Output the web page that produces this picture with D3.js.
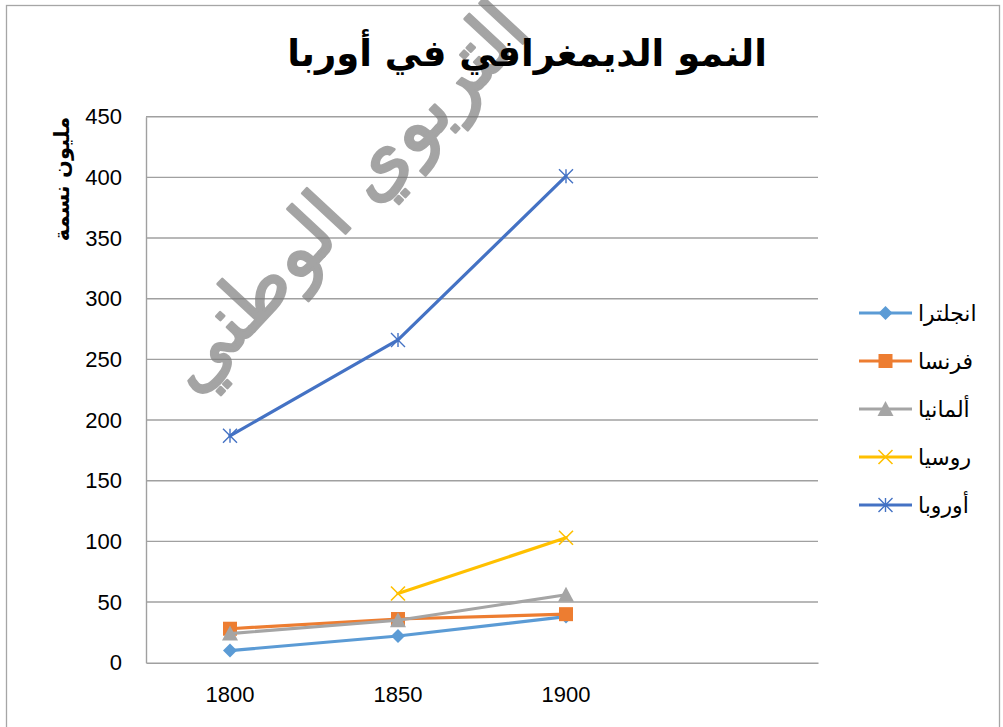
<!DOCTYPE html>
<html><head><meta charset="utf-8">
<script src="https://cdn.jsdelivr.net/npm/d3@7"></script>
<style>body{margin:0;background:#fff;} svg{display:block;}</style>
</head><body>
<script>
const years = ["1800", "1850", "1900", ""];
const england = [10, 22, 38, null];
const france = [28, 36, 40, null];
const germany = [24, 35, 56, null];
const russia = [null, 57, 103, null];
const europe = [187, 266, 401, null];
const seriesNames = ["انجلترا", "فرنسا", "ألمانيا", "روسيا", "أوروبا"];
const seriesColors = ["#5B9BD5", "#ED7D31", "#A5A5A5", "#FFC000", "#4472C4"];
const seriesMarkers = ["diamond", "square", "triangle", "x", "star"];
const yTicks = [0, 50, 100, 150, 200, 250, 300, 350, 400, 450];
const titleText = "النمو الديمغرافي في أوربا";
const yTitle = "مليون نسمة";
const watermark = "التربوي الوطني";

const series = [england, france, germany, russia, europe];

const W = 1003, H = 727;
const svg = d3.select("body").append("svg").attr("width", W).attr("height", H);
svg.append("rect").attr("x", 0).attr("y", 0).attr("width", W).attr("height", H).attr("fill", "#fff");
svg.append("rect").attr("x", 6.5).attr("y", 5.5).attr("width", 993).attr("height", 740)
  .attr("fill", "none").attr("stroke", "#a6a6a6").attr("stroke-width", 1.3);

const L = 146, R = 818, T = 116.7, B = 662.7;
const x = d3.scaleBand().domain(d3.range(years.length)).range([L, R]);
const y = d3.scaleLinear().domain([0, 450]).range([B, T]);

// gridlines
svg.append("g").selectAll("line").data(yTicks.filter(d => d > 0)).join("line")
  .attr("x1", L).attr("x2", R).attr("y1", d => y(d)).attr("y2", d => y(d))
  .attr("stroke", "#a0a0a0").attr("stroke-width", 1.4);

// y axis
const yAxis = d3.axisLeft(y).tickValues(yTicks).tickSize(0).tickPadding(24);
const gy = svg.append("g").attr("transform", `translate(${L},0)`).call(yAxis);
gy.select(".domain").attr("stroke", "#a0a0a0").attr("stroke-width", 1.4);
gy.selectAll("text").attr("font-family", "Liberation Sans, Arial, sans-serif").attr("font-size", 22).attr("fill", "#000");

// x axis
const xAxis = d3.axisBottom(x).tickFormat(i => years[i]).tickSize(0).tickPadding(24);
const gx = svg.append("g").attr("transform", `translate(0,${B})`).call(xAxis);
gx.select(".domain").attr("stroke", "#a0a0a0").attr("stroke-width", 1.4);
gx.selectAll("text").attr("font-family", "Liberation Sans, Arial, sans-serif").attr("font-size", 22).attr("fill", "#000");

// watermark
svg.append("text").attr("transform", "translate(194,396) rotate(-47)")
  .attr("text-anchor", "start").attr("font-family", "DejaVu Sans, sans-serif")
  .attr("font-size", 78).attr("fill", "#7a7a7a").attr("stroke", "#7a7a7a").attr("stroke-width", 2.5)
  .attr("stroke-linejoin", "round").attr("opacity", 0.68).text(watermark);

// title
svg.append("text").attr("x", 527).attr("y", 66).attr("text-anchor", "middle")
  .attr("font-family", "DejaVu Sans, sans-serif").attr("font-weight", "bold").attr("font-size", 37)
  .attr("fill", "#000").text(titleText);

// y title
svg.append("text").attr("transform", "translate(69,179) rotate(-90)").attr("text-anchor", "middle")
  .attr("font-family", "DejaVu Sans, sans-serif").attr("font-weight", "bold").attr("font-size", 21)
  .attr("fill", "#000").text(yTitle);

function marker(g, type, color, cx, cy) {
  const s = 7;
  if (type === "diamond") {
    g.append("path").attr("d", `M${cx},${cy - s}L${cx + s},${cy}L${cx},${cy + s}L${cx - s},${cy}Z`).attr("fill", color);
  } else if (type === "square") {
    g.append("rect").attr("x", cx - s).attr("y", cy - s).attr("width", 2 * s).attr("height", 2 * s).attr("fill", color);
  } else if (type === "triangle") {
    g.append("path").attr("d", `M${cx},${cy - s - 1}L${cx + s + 1},${cy + s}L${cx - s - 1},${cy + s}Z`).attr("fill", color);
  } else if (type === "x") {
    g.append("path").attr("d", `M${cx - s},${cy - s}L${cx + s},${cy + s}M${cx - s},${cy + s}L${cx + s},${cy - s}`)
      .attr("stroke", color).attr("stroke-width", 1.6).attr("fill", "none");
  } else if (type === "star") {
    g.append("path").attr("d", `M${cx - s},${cy - s}L${cx + s},${cy + s}M${cx - s},${cy + s}L${cx + s},${cy - s}M${cx},${cy - s}L${cx},${cy + s}`)
      .attr("stroke", color).attr("stroke-width", 1.4).attr("fill", "none");
  }
}

const line = d3.line().defined(d => d.v != null).x(d => x(d.i) + x.bandwidth() / 2).y(d => y(d.v));
series.forEach((vals, k) => {
  const g = svg.append("g");
  const pts = vals.map((v, i) => ({ i, v }));
  g.append("path").attr("d", line(pts)).attr("fill", "none").attr("stroke", seriesColors[k])
    .attr("stroke-width", 3.2).attr("stroke-linejoin", "round").attr("stroke-linecap", "round");
  pts.filter(p => p.v != null).forEach(p => marker(g, seriesMarkers[k], seriesColors[k], x(p.i) + x.bandwidth() / 2, y(p.v)));
});

// legend
const lg = svg.append("g");
seriesNames.forEach((name, k) => {
  const ly = 313 + k * 48;
  lg.append("line").attr("x1", 859).attr("x2", 912).attr("y1", ly).attr("y2", ly)
    .attr("stroke", seriesColors[k]).attr("stroke-width", 3.2);
  marker(lg, seriesMarkers[k], seriesColors[k], 885.5, ly);
  lg.append("text").attr("x", 918).attr("y", ly + 8).attr("text-anchor", "start")
    .attr("font-family", "DejaVu Sans, sans-serif").attr("font-size", 22).attr("fill", "#000").text(name);
});
</script>
</body></html>
